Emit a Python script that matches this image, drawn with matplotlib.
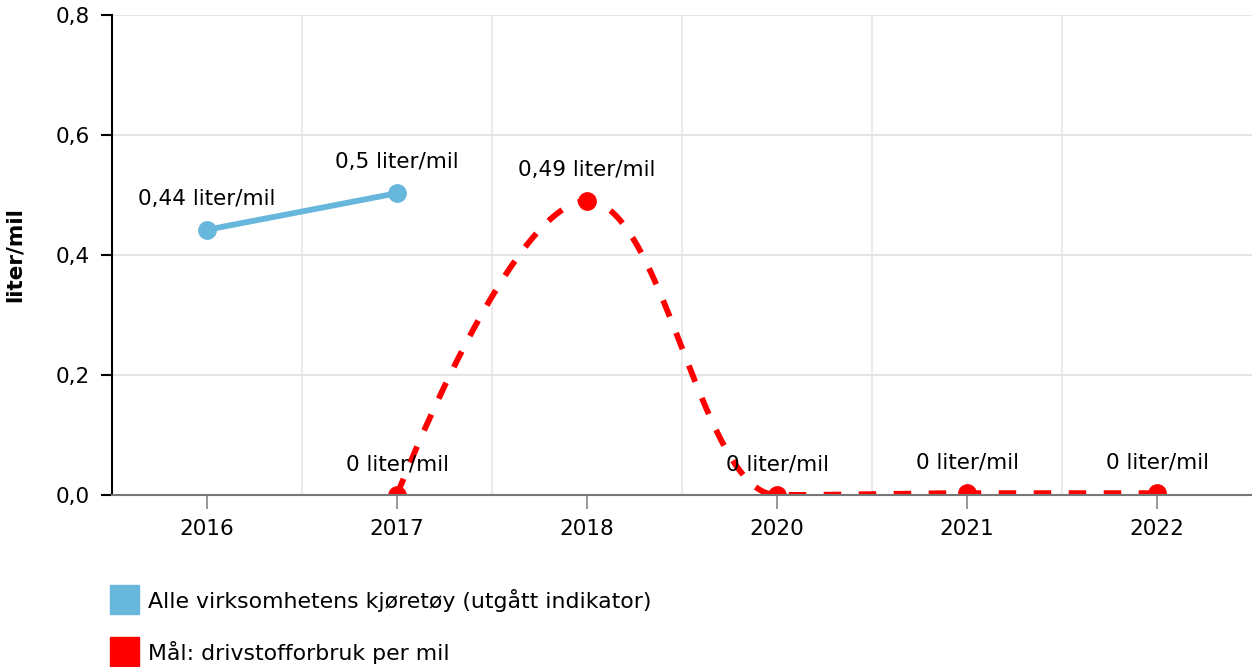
import numpy as np
import matplotlib.pyplot as plt
from matplotlib.patches import Rectangle

# data
years = ['2016', '2017', '2018', '2020', '2021', '2022']
alle = [0.442, 0.503, None, None, None, None]
maal = [None, 0.0, 0.49, 0.0, 0.003, 0.003]
alle_name = 'Alle virksomhetens kjøretøy (utgått indikator)'
maal_name = 'Mål: drivstofforbruk per mil'
unit = 'liter/mil'

blue = '#67b7dc'
red = '#ff0000'
fs = 15.5


def fmt(v):
    s = ('%.2f' % v).rstrip('0').rstrip('.')
    return s.replace('.', ',')


def spline(xs, ys, smoothing=1.5, n=60):
    # highcharts-style spline through points
    denom = smoothing + 1
    cont = []
    for i in range(len(xs)):
        x, y = xs[i], ys[i]
        if 0 < i < len(xs) - 1:
            lx, ly, nx, ny = xs[i-1], ys[i-1], xs[i+1], ys[i+1]
            lcx = (smoothing * x + lx) / denom
            lcy = (smoothing * y + ly) / denom
            rcx = (smoothing * x + nx) / denom
            rcy = (smoothing * y + ny) / denom
            corr = (rcy - lcy) * (rcx - x) / (rcx - lcx) + y - rcy
            lcy += corr
            rcy += corr
            if lcy > ly and lcy > y:
                lcy = max(ly, y); rcy = 2 * y - lcy
            elif lcy < ly and lcy < y:
                lcy = min(ly, y); rcy = 2 * y - lcy
            if rcy > ny and rcy > y:
                rcy = max(ny, y); lcy = 2 * y - rcy
            elif rcy < ny and rcy < y:
                rcy = min(ny, y); lcy = 2 * y - rcy
            cont.append((lcx, lcy, rcx, rcy))
        else:
            cont.append((x, y, x, y))
    px, py = [xs[0]], [ys[0]]
    t = np.linspace(0, 1, n)[1:]
    for i in range(1, len(xs)):
        p0 = (xs[i-1], ys[i-1])
        p1 = (cont[i-1][2], cont[i-1][3])
        p2 = (cont[i][0], cont[i][1])
        p3 = (xs[i], ys[i])
        bx = (1-t)**3*p0[0] + 3*(1-t)**2*t*p1[0] + 3*(1-t)*t**2*p2[0] + t**3*p3[0]
        by = (1-t)**3*p0[1] + 3*(1-t)**2*t*p1[1] + 3*(1-t)*t**2*p2[1] + t**3*p3[1]
        px.extend(bx); py.extend(by)
    return np.array(px), np.array(py)


fig = plt.figure(figsize=(12.52, 6.67), dpi=100)
ax = fig.add_axes([112/1252, 172/667, 1140/1252, 480/667])

x = np.arange(len(years))

# blue series
bx = [i for i, v in enumerate(alle) if v is not None]
by = [v for v in alle if v is not None]
ax.plot(bx, by, color=blue, lw=4.2, marker='o', ms=12.5, zorder=4, solid_capstyle='round')

# red series
rx = [i for i, v in enumerate(maal) if v is not None]
ry = [v for v in maal if v is not None]
sx, sy = spline(rx, ry)
ax.plot(sx, sy, color=red, lw=4.2, dashes=(3.0, 3.0), zorder=4)
ax.plot(rx, ry, 'o', color=red, ms=12.5, zorder=5)

for xs_, ys_ in [(bx, by), (rx, ry)]:
    for xi, yi in zip(xs_, ys_):
        ax.annotate(fmt(yi) + ' ' + unit, (xi, yi), xytext=(0, 31), textcoords='offset pixels',
                    ha='center', va='center', fontsize=fs, color='#000000', zorder=6)

ax.set_xlim(-0.5, len(years) - 0.5)
ax.set_ylim(0, 0.8)
ax.set_yticks([0, 0.2, 0.4, 0.6, 0.8])
ax.set_yticklabels([('%.1f' % v).replace('.', ',') for v in [0, 0.2, 0.4, 0.6, 0.8]], fontsize=fs)
ax.set_xticks(x)
ax.set_xticklabels(years, fontsize=fs)
ax.set_xticks(np.arange(0.5, len(years) - 0.5, 1), minor=True)

ax.grid(axis='y', color='#e0e0e0', lw=1.2, zorder=0)
ax.grid(axis='x', which='minor', color='#e6e6e6', lw=1.2, zorder=0)
ax.grid(axis='x', which='major', visible=False)
ax.tick_params(axis='x', which='minor', length=0)
ax.tick_params(axis='x', which='major', length=10, width=1.2, color='#888888', pad=7)
ax.tick_params(axis='y', length=8, width=1.5, color='#000000', pad=8)

for s in ['top', 'right']:
    ax.spines[s].set_visible(False)
ax.spines['left'].set_color('#000000')
ax.spines['left'].set_linewidth(1.5)
ax.spines['bottom'].set_color('#777777')
ax.spines['bottom'].set_linewidth(1.5)
ax.spines['bottom'].set_zorder(6)

ax.set_ylabel(unit, fontsize=fs, fontweight='bold')
ax.yaxis.set_label_coords(-0.0763, 0.5)

# legend
for i, (name, col) in enumerate([(alle_name, blue), (maal_name, red)]):
    top = 585 + 52 * i
    fig.add_artist(Rectangle((110/1252, 1 - (top + 29)/667), 29/1252, 29/667,
                             transform=fig.transFigure, color=col))
    fig.text(148/1252, 1 - (top + 15)/667, name, fontsize=15.8, va='center', ha='left')

fig.savefig('out.png', dpi=100)
